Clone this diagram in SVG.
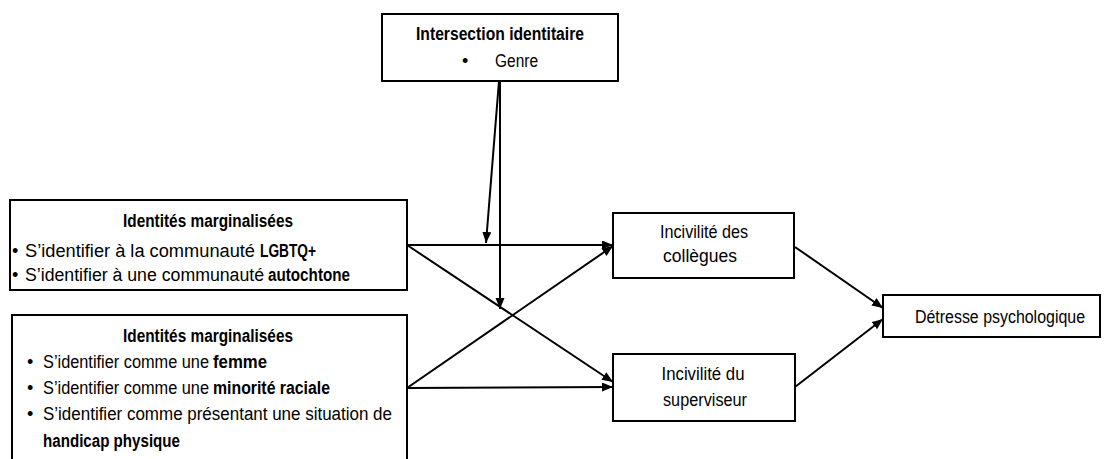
<svg xmlns="http://www.w3.org/2000/svg" width="1105" height="459" viewBox="0 0 1105 459">
<style>
.box{fill:#fff;stroke:#000;stroke-width:2}
text{font-family:"Liberation Sans",Arial,sans-serif;font-size:18px;fill:#000}
.b{font-weight:bold}
.c{text-anchor:middle}
.conn line{stroke:#000;stroke-width:2;marker-end:url(#ah)}
</style>
<defs>
<marker id="ah" markerUnits="userSpaceOnUse" markerWidth="12" markerHeight="10" refX="11" refY="4.5" orient="auto">
<path d="M0,0 L11,4.5 L0,9 z" fill="#000"/>
</marker>
</defs>
<rect width="1105" height="459" fill="#fff"/>
<g id="intersection">
<rect class="box" x="382" y="14" width="236" height="67"/>
<text class="b c" x="500" y="40" textLength="168" lengthAdjust="spacingAndGlyphs">Intersection identitaire</text>
<text x="462" y="67">•</text>
<text x="495" y="67" textLength="43" lengthAdjust="spacingAndGlyphs">Genre</text>
</g>
<g id="identites1">
<rect class="box" x="10" y="200" width="397" height="90"/>
<text class="b c" x="208" y="227" textLength="170" lengthAdjust="spacingAndGlyphs">Identités marginalisées</text>
<text x="12" y="257">•</text>
<text x="25" y="257" textLength="230" lengthAdjust="spacingAndGlyphs">S’identifier à la communauté</text>
<text class="b" x="260" y="257" textLength="56" lengthAdjust="spacingAndGlyphs">LGBTQ+</text>
<text x="12" y="281">•</text>
<text x="25" y="281" textLength="239" lengthAdjust="spacingAndGlyphs">S’identifier à une communauté</text>
<text class="b" x="268" y="281" textLength="82" lengthAdjust="spacingAndGlyphs">autochtone</text>
</g>
<g id="identites2">
<rect class="box" x="12" y="315" width="395" height="160"/>
<text class="b c" x="208" y="342" textLength="170" lengthAdjust="spacingAndGlyphs">Identités marginalisées</text>
<text x="27" y="368">•</text>
<text x="43" y="368" textLength="166" lengthAdjust="spacingAndGlyphs">S’identifier comme une</text>
<text class="b" x="213" y="368" textLength="54" lengthAdjust="spacingAndGlyphs">femme</text>
<text x="27" y="394">•</text>
<text x="43" y="394" textLength="166" lengthAdjust="spacingAndGlyphs">S’identifier comme une</text>
<text class="b" x="213" y="394" textLength="117" lengthAdjust="spacingAndGlyphs">minorité raciale</text>
<text x="27" y="420">•</text>
<text x="43" y="420" textLength="349" lengthAdjust="spacingAndGlyphs">S’identifier comme présentant une situation de</text>
<text class="b" x="43" y="447" textLength="137" lengthAdjust="spacingAndGlyphs">handicap  physique</text>
</g>
<g id="collegues">
<rect class="box" x="613" y="213" width="181" height="65"/>
<text class="c" x="704" y="238" textLength="88" lengthAdjust="spacingAndGlyphs">Incivilité des</text>
<text class="c" x="700" y="262" textLength="74" lengthAdjust="spacingAndGlyphs">collègues</text>
</g>
<g id="superviseur">
<rect class="box" x="613" y="354" width="182" height="67"/>
<text class="c" x="703" y="380" textLength="83" lengthAdjust="spacingAndGlyphs">Incivilité du</text>
<text class="c" x="705" y="406" textLength="84" lengthAdjust="spacingAndGlyphs">superviseur</text>
</g>
<g id="detresse">
<rect class="box" x="883" y="295" width="217" height="42"/>
<text class="c" x="1000" y="323" textLength="170" lengthAdjust="spacingAndGlyphs">Détresse psychologique</text>
</g>
<g class="conn" id="connectors">
<line x1="407" y1="245" x2="613" y2="245"/>
<line x1="407" y1="245" x2="613" y2="382"/>
<line x1="407" y1="388" x2="613" y2="387"/>
<line x1="407" y1="388" x2="613" y2="246"/>
<line x1="795" y1="247" x2="883" y2="308"/>
<line x1="795" y1="387" x2="883" y2="319"/>
<line x1="499" y1="81" x2="486" y2="243"/>
<line x1="500" y1="81" x2="500" y2="309"/>
</g>
</svg>
